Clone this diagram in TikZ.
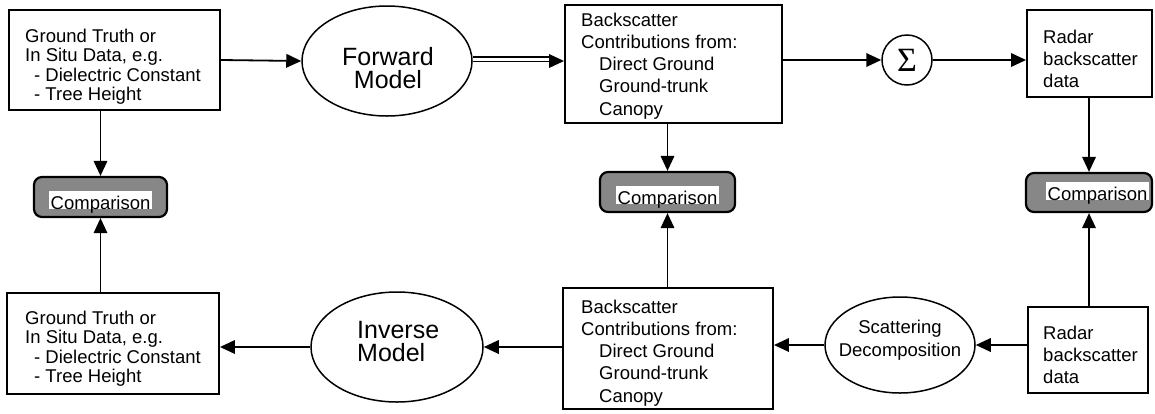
\documentclass[tikz,border=0pt]{standalone}
\usepackage{fontspec}
\setmainfont{Liberation Sans}
\newfontfamily\sigfont{Liberation Serif}
\usetikzlibrary{shapes.geometric,arrows.meta,calc}
\begin{document}
\begin{tikzpicture}[x=1pt,y=-1pt,
  box/.style={draw, line width=1.9pt, inner sep=0},
  oval/.style={draw, ellipse, line width=1.5pt, inner sep=0},
  cmp/.style={draw, line width=2.2pt, rounded corners=8pt, fill=black!47, inner sep=0},
  cmptxt/.style={fill=white, inner xsep=1.5pt, inner ysep=0pt, text height=18pt, text depth=0pt, anchor=base west, font=\fontsize{18.5}{20}\selectfont},
  txt/.style={inner sep=0, align=left, anchor=north west, font=\fontsize{18.5}{19.5}\selectfont},
  txtb/.style={txt, font=\fontsize{18.5}{22.2}\selectfont},
  big/.style={inner sep=0, anchor=north, align=center, font=\fontsize{25}{23.5}\selectfont},
  mid/.style={inner sep=0, anchor=north, align=center, font=\fontsize{18.5}{23}\selectfont},
  arr/.style={line width=1.8pt, -{Triangle[length=15pt,width=13.5pt]}},
  conn/.style={line width=1.8pt}]
\useasboundingbox (0,0) rectangle (1155,413);
% top row
\node[box, minimum width=211pt, minimum height=100pt] (gt1) at (114.5,60) {};
\node[txt] (gt1t) at (25,28.6) {Ground Truth or\\In Situ Data, e.g.\\\hspace*{9pt}- Dielectric Constant\\\hspace*{9pt}- Tree Height};
\node[oval, minimum width=170pt, minimum height=110pt] (fm) at (387,61) {};
\node[big] (fmt) at (388,47) {Forward\\Model};
\node[box, minimum width=217pt, minimum height=118pt] (bs1) at (673.5,64) {};
\node[txtb] (bs1t) at (581,12.6) {Backscatter\\Contributions from:\\\hspace*{18pt}Direct Ground\\\hspace*{18pt}Ground-trunk\\\hspace*{18pt}Canopy};
\node[draw, circle, line width=1.5pt, minimum size=50pt, inner sep=0] (sig) at (907,60) {\sigfont\fontsize{34}{34}\selectfont Σ};
\node[box, minimum width=125pt, minimum height=87pt] (rd1) at (1089.5,53.5) {};
\node[txtb] (rd1t) at (1043,29.6) {Radar\\backscatter\\data};
% comparisons
\node[cmp, minimum width=133pt, minimum height=40pt] (c1) at (100.5,197) {};
\node[cmptxt] (c1t) at (49,209) {Comparison};
\node[cmp, minimum width=135pt, minimum height=40pt] (c2) at (667.5,192) {};
\node[cmptxt] (c2t) at (616,204) {Comparison};
\node[cmp, minimum width=126pt, minimum height=39pt] (c3) at (1089,192.5) {};
\node[cmptxt] (c3t) at (1046,200) {Comparison};
% bottom row
\node[box, minimum width=212pt, minimum height=101pt] (gt2) at (113,343.5) {};
\node[txt] (gt2t) at (25,310.6) {Ground Truth or\\In Situ Data, e.g.\\\hspace*{9pt}- Dielectric Constant\\\hspace*{9pt}- Tree Height};
\node[oval, minimum width=172pt, minimum height=110pt] (im) at (397,347) {};
\node[big, anchor=north west, align=left] (imt) at (357,321) {Inverse\\Model};
\node[box, minimum width=210pt, minimum height=121pt] (bs2) at (668,348.5) {};
\node[txtb] (bs2t) at (581,299.6) {Backscatter\\Contributions from:\\\hspace*{18pt}Direct Ground\\\hspace*{18pt}Ground-trunk\\\hspace*{18pt}Canopy};
\node[oval, minimum width=150pt, minimum height=96pt] (sd) at (900,345) {};
\node[mid] (sdt) at (900,319.6) {Scattering\\Decomposition};
\node[box, minimum width=120pt, minimum height=86pt] (rd2) at (1088,350) {};
\node[txtb] (rd2t) at (1043,325.6) {Radar\\backscatter\\data};
% connectors top
\draw[arr] (gt1.east) -- (fm.west);
\coordinate (dblend) at ($(fm.east -| bs1.west)+(-13,0)$);
\draw[line width=1.2pt, double distance=3pt] ([yshift=2pt]fm.east) -- ([yshift=2pt]dblend);
\draw[arr, shorten <=77pt] (fm.east) -- (fm.east -| bs1.west);
\draw[arr] (sig.west -| bs1.east) -- (sig.west);
\draw[arr] (sig.east) -- (sig.east -| rd1.west);
% vertical
\draw[arr] (gt1.south -| c1.north) -- (c1.north);
\draw[arr] (gt2.north -| c1.south) -- (c1.south);
\draw[arr] (bs1.south -| c2.north) -- (c2.north);
\draw[arr] (bs2.north -| c2.south) -- (c2.south);
\draw[arr] (rd1.south -| c3.north) -- (c3.north);
\draw[arr] (rd2.north -| c3.south) -- (c3.south);
% connectors bottom
\draw[arr] (im.west) -- (im.west -| gt2.east);
\draw[arr] (im.east -| bs2.west) -- (im.east);
\draw[arr] (sd.west) -- (sd.west -| bs2.east);
\draw[arr] (sd.east -| rd2.west) -- (sd.east);
\end{tikzpicture}
\end{document}
